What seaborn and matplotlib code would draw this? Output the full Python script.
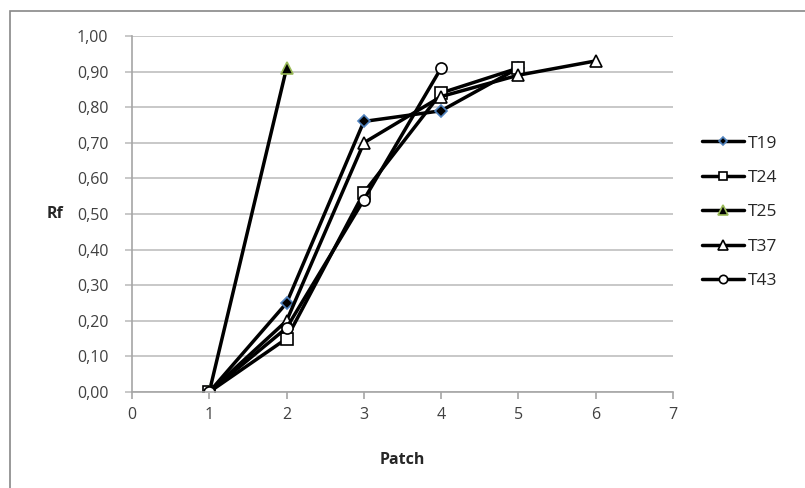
import pandas as pd
import matplotlib.pyplot as plt
import matplotlib.patches as patches
import seaborn as sns

# Rf values per patch for each sample
patch_t19 = [1, 2, 3, 4, 5]
rf_t19 = [0.00, 0.25, 0.76, 0.79, 0.91]
patch_t24 = [1, 2, 3, 4, 5]
rf_t24 = [0.00, 0.15, 0.56, 0.84, 0.91]
patch_t25 = [1, 2]
rf_t25 = [0.00, 0.91]
patch_t37 = [1, 2, 3, 4, 5, 6]
rf_t37 = [0.00, 0.20, 0.70, 0.83, 0.89, 0.93]
patch_t43 = [1, 2, 3, 4]
rf_t43 = [0.00, 0.18, 0.54, 0.91]

series = [
    ('T19', patch_t19, rf_t19, dict(marker='D', markersize=6, markerfacecolor='black', markeredgecolor='#4f81bd')),
    ('T24', patch_t24, rf_t24, dict(marker='s', markersize=8, markerfacecolor='white', markeredgecolor='black')),
    ('T25', patch_t25, rf_t25, dict(marker='^', markersize=9, markerfacecolor='black', markeredgecolor='#9bbb59')),
    ('T37', patch_t37, rf_t37, dict(marker='^', markersize=9, markerfacecolor='white', markeredgecolor='black')),
    ('T43', patch_t43, rf_t43, dict(marker='o', markersize=8, markerfacecolor='white', markeredgecolor='black')),
]

sns.set_style('white')
plt.rcParams['font.family'] = ['Open Sans', 'DejaVu Sans']

fig = plt.figure(figsize=(8.05, 4.88), dpi=100)
ax = fig.add_axes([132 / 805, 1 - 392 / 488, 541 / 805, 356 / 488])

# outer chart frame
fig.patches.append(patches.Rectangle((10 / 805, -0.1), 1.1, 1 - 11 / 488 + 0.1,
                                     transform=fig.transFigure, fill=False,
                                     edgecolor='#888888', linewidth=1.2))

for name, px, ry, style in series:
    df = pd.DataFrame({'Patch': px, 'Rf': ry})
    sns.lineplot(data=df, x='Patch', y='Rf', ax=ax, color='black', linewidth=2.5,
                 label=name, markeredgewidth=1.2, **style)

ax.set_xlim(0, 7)
ax.set_ylim(0, 1)
ax.set_xticks(range(0, 8))
ax.set_yticks([i / 10 for i in range(11)])
ax.set_yticklabels([f'{i / 10:.2f}'.replace('.', ',') for i in range(11)])
ax.yaxis.grid(True, color='#bfbfbf', linewidth=1.2)
ax.xaxis.grid(False)
ax.set_axisbelow(True)

for s in ['top', 'right']:
    ax.spines[s].set_visible(False)
for s in ['left', 'bottom']:
    ax.spines[s].set_color('#a6a6a6')
    ax.spines[s].set_linewidth(1.2)

ax.tick_params(axis='both', which='major', labelsize=11.5, colors='#404040',
               length=5, width=1.2, direction='out', bottom=True, left=True)
ax.tick_params(axis='x', colors='#a6a6a6', labelcolor='#404040', pad=6)
ax.tick_params(axis='y', colors='#bfbfbf', labelcolor='#404040', pad=12)

ax.set_xlabel('Patch', fontsize=11.5, fontweight='bold', labelpad=21)
ax.set_ylabel('Rf', fontsize=11.5, fontweight='bold', rotation=0, labelpad=16, va='center')

ax.legend(loc='center left', bbox_to_anchor=(1.025, 0.505), frameon=False,
          fontsize=12.5, handlelength=2.4, labelspacing=1.05, handletextpad=0.25,
          markerscale=0.75)

plt.savefig('out.png', dpi=100)
